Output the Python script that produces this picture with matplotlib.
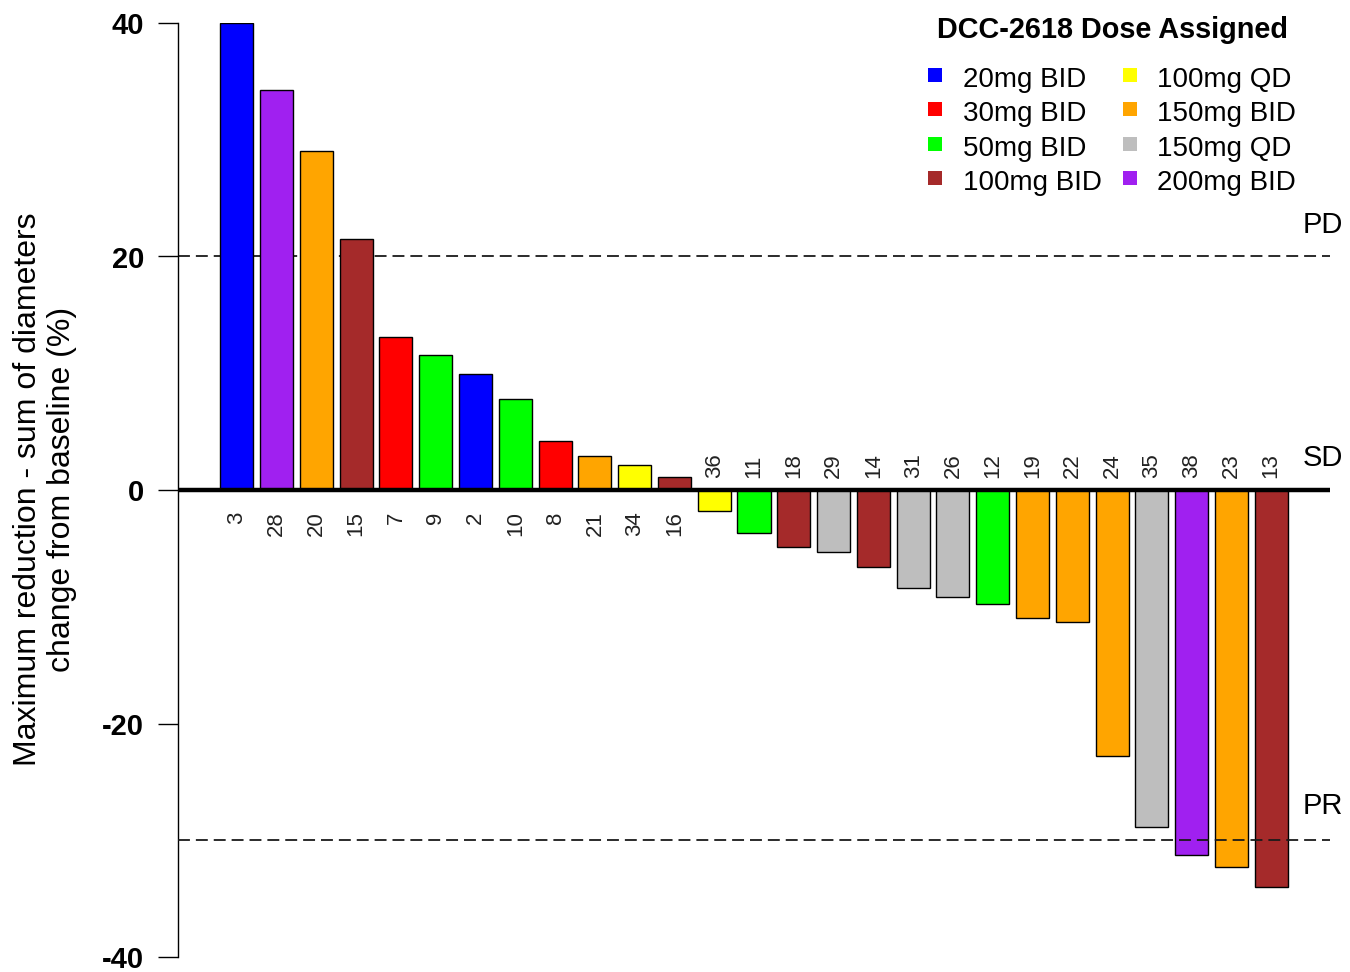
import matplotlib
matplotlib.use("Agg")
import matplotlib.pyplot as plt
from matplotlib.lines import Line2D

plt.rcParams['font.family'] = ['Liberation Sans', 'DejaVu Sans']
plt.rcParams['axes.unicode_minus'] = False

# Patients ordered by best change in sum of target-lesion diameters
patients = ["3", "28", "20", "15", "7", "9", "2", "10", "8", "21", "34", "16",
            "36", "11", "18", "29", "14", "31", "26", "12", "19", "22", "24",
            "35", "38", "23", "13"]
change_pct = [40.0, 34.3, 29.0, 21.5, 13.1, 11.6, 9.9, 7.8, 4.2, 2.9, 2.1, 1.1,
              -1.8, -3.7, -4.9, -5.3, -6.6, -8.4, -9.2, -9.8, -11.0, -11.3, -22.8,
              -28.9, -31.3, -32.3, -34.0]
dose = ["20mg BID", "200mg BID", "150mg BID", "100mg BID", "30mg BID", "50mg BID",
        "20mg BID", "50mg BID", "30mg BID", "150mg BID", "100mg QD", "100mg BID",
        "100mg QD", "50mg BID", "100mg BID", "150mg QD", "100mg BID", "150mg QD",
        "150mg QD", "50mg BID", "150mg BID", "150mg BID", "150mg BID", "150mg QD",
        "200mg BID", "150mg BID", "100mg BID"]

dose_levels = ["20mg BID", "30mg BID", "50mg BID", "100mg BID",
               "100mg QD", "150mg BID", "150mg QD", "200mg BID"]
dose_colors = ["#0000FF", "#FF0000", "#00FF00", "#A52A2A",
               "#FFFF00", "#FFA500", "#BEBEBE", "#A020F0"]
color_of = dict(zip(dose_levels, dose_colors))

# Response thresholds (RECIST)
pd_cut = 20
pr_cut = -30

fig = plt.figure(figsize=(13.5, 9.72), dpi=100)
ax = fig.add_axes([178 / 1350, 15 / 972, (1330 - 178) / 1350, 934 / 972])

x = list(range(len(patients)))
ax.bar(x, change_pct, width=0.83, color=[color_of[d] for d in dose],
       edgecolor="black", linewidth=1.0, zorder=2)

ax.set_xlim(-1.48, len(patients) - 1 + 1.48)
ax.set_ylim(-40, 40)

# Reference lines
ax.axhline(0, color="black", linewidth=3.2, zorder=3)
ax.axhline(pd_cut, color="#1a1a1a", linewidth=1.3, dashes=(6.6, 3.3), zorder=1)
ax.axhline(pr_cut, color="#1a1a1a", linewidth=1.3, dashes=(6.6, 3.3), zorder=3)

# Patient labels on the opposite side of the baseline
for xi, val, pid in zip(x, change_pct, patients):
    if val >= 0:
        ax.text(xi, -1.85, pid, rotation=90, ha="center", va="top",
                fontsize=16, color="#222222")
    else:
        ax.text(xi, 1.0, pid, rotation=90, ha="center", va="bottom",
                fontsize=16, color="#222222")

# Category labels on the right
for label, yv in [("PD", 22.7), ("SD", 2.74), ("PR", -27.1)]:
    ax.text(26.8, yv, label, ha="left", va="center", fontsize=21, clip_on=False)

# Axes styling
for side in ["top", "right", "bottom"]:
    ax.spines[side].set_visible(False)
ax.spines["left"].set_linewidth(1.0)
ax.set_xticks([])
ax.set_yticks([-40, -20, 0, 20, 40])
ax.tick_params(axis="y", length=14.4, width=1.0, pad=10, labelsize=21)
for lbl in ax.get_yticklabels():
    lbl.set_fontweight("bold")

fig.text(45 / 1350, 1 - 489 / 972,
         "Maximum reduction - sum of diameters\nchange from baseline (%)",
         rotation=90, ha="center", va="center", multialignment="center",
         fontsize=23, linespacing=1.2)

handles = [Line2D([], [], linestyle="none", marker="s", markersize=9.4,
                  markeredgewidth=0, color=c) for c in dose_colors]
leg = fig.legend(handles, dose_levels, ncol=2, loc="upper left",
                 bbox_to_anchor=(915 / 1350, 1 - 2 / 972),
                 frameon=False, fontsize=20, borderpad=0,
                 handlelength=0.47, handleheight=1.2, handletextpad=0.75,
                 columnspacing=0.79, labelspacing=0.17,
                 title="DCC-2618 Dose Assigned",
                 title_fontproperties={"weight": "bold", "size": 20.8})
leg._legend_box.sep = 14

fig.savefig("out.png", dpi=100, facecolor="white")
